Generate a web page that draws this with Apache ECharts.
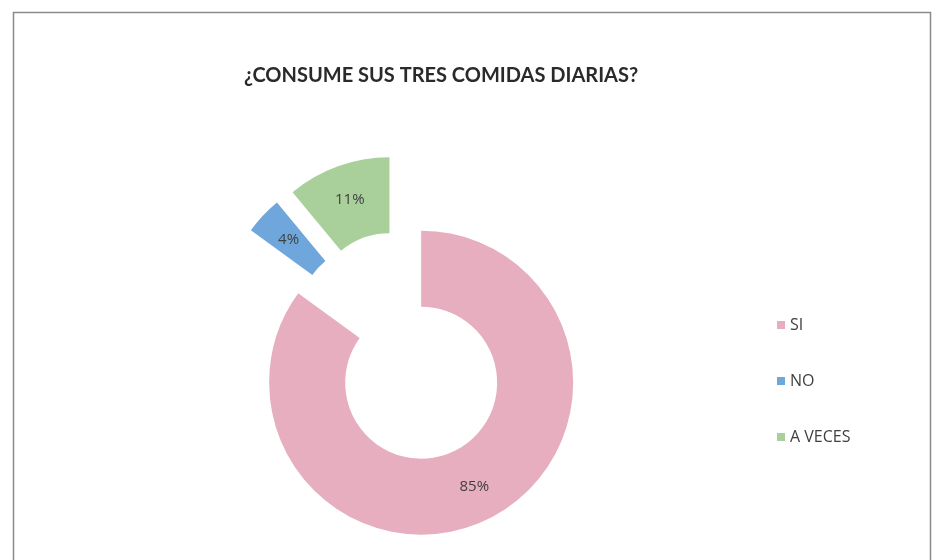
<!DOCTYPE html>
<html>
<head>
<meta charset="utf-8">
<script src="https://cdn.jsdelivr.net/npm/echarts@6/dist/echarts.min.js"></script>
<style>
  html, body { margin: 0; padding: 0; background: #ffffff; }
  #chart { width: 936px; height: 560px; }
</style>
</head>
<body>
<div id="chart"></div>
<script>
// Survey answers and their shares (%)
const categories = ['SI', 'NO', 'A VECES'];
const shares = [85, 4, 11];
const colors = ['#e6aebe', '#6fa7dc', '#a9cf9b'];

const chart = echarts.init(document.getElementById('chart'), null, { renderer: 'canvas' });

const option = {
  animation: false,
  backgroundColor: '#ffffff',
  title: {
    text: '¿CONSUME SUS TRES COMIDAS DIARIAS?',
    left: 436,
    textAlign: 'center',
    top: 61,
    textStyle: {
      fontFamily: 'Lato',
      fontWeight: 'bold',
      fontSize: 20,
      color: '#2a2a2a'
    }
  },
  legend: {
    orient: 'vertical',
    left: 772,
    top: 312,
    itemWidth: 8,
    itemHeight: 8,
    itemGap: 40,
    icon: 'rect',
    selectedMode: false,
    textStyle: { fontFamily: 'Open Sans', fontSize: 16, color: '#404040' },
    data: categories
  },
  graphic: [{
    type: 'rect',
    silent: true,
    shape: { x: 13.5, y: 12.5, width: 917, height: 580 },
    style: { fill: 'none', stroke: '#8a8a8a', lineWidth: 1.5 }
  }],
  series: [{
    type: 'pie',
    center: [403, 347],
    radius: [76, 152],
    startAngle: 90,
    clockwise: true,
    selectedMode: 'multiple',
    selectedOffset: 40,
    avoidLabelOverlap: false,
    emphasis: { scale: false },
    select: { itemStyle: { borderWidth: 0 } },
    label: {
      show: true,
      position: 'inside',
      formatter: '{c}%',
      fontFamily: 'Open Sans',
      fontSize: 15,
      color: '#404040'
    },
    labelLine: { show: false },
    data: categories.map((name, i) => ({
      name: name,
      value: shares[i],
      selected: true,
      itemStyle: { color: colors[i] }
    }))
  }]
};

chart.setOption(option);
</script>
</body>
</html>
